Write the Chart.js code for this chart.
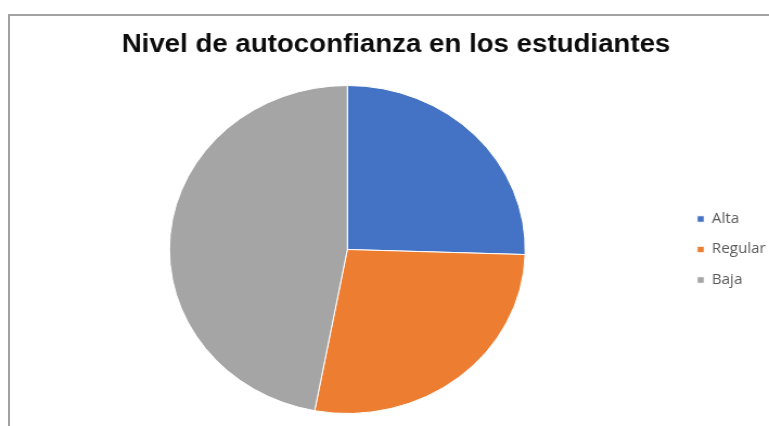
<!DOCTYPE html>
<html>
<head>
<meta charset="utf-8">
<script src="https://cdn.jsdelivr.net/npm/chart.js@4"></script>
<style>
  html, body { margin: 0; padding: 0; background: #fff; }
  #frame { position: absolute; left: 8px; top: 14px; right: 0; bottom: 0;
           border-top: 2px solid #a3a3a3; border-left: 2px solid #a3a3a3; }
  #grafico { position: absolute; left: 0; top: 0; width: 769px; height: 426px; }
</style>
</head>
<body>
<div id="frame"></div>
<canvas id="grafico" width="709" height="426" style="width:769px;height:426px"></canvas>
<script>
// datos
var titulo = 'Nivel de autoconfianza en los estudiantes';
var categorias = ['Alta', 'Regular', 'Baja'];
var valores = [13, 14, 24];
var colores = ['#4472C4', '#ED7D31', '#A5A5A5'];

var ctx = document.getElementById('grafico').getContext('2d');
var miGrafico = new Chart(ctx, {
	type: 'pie',
	data: {
		labels: categorias,
		datasets: [{
			data: valores,
			backgroundColor: colores,
			borderColor: '#ffffff',
			borderWidth: 1
		}]
	},
	options: {
		responsive: false,
		animation: false,
		layout: { padding: { left: 14.2, right: -7, top: 0, bottom: 12 } },
		plugins: {
			title: {
				display: true,
				text: titulo,
				color: '#0d0d0d',
				font: { family: 'Liberation Sans', size: 25.5, weight: 'bold' },
				padding: { top: 30, bottom: 24.4 }
			},
			legend: {
				position: 'right',
				fullSize: false,
				labels: {
					boxWidth: 6.5,
					boxHeight: 6.5,
					padding: 16.5,
					color: '#595959',
					font: { family: 'Open Sans', size: 14 }
				}
			},
			tooltip: { enabled: false }
		}
	}
});
</script>
</body>
</html>
